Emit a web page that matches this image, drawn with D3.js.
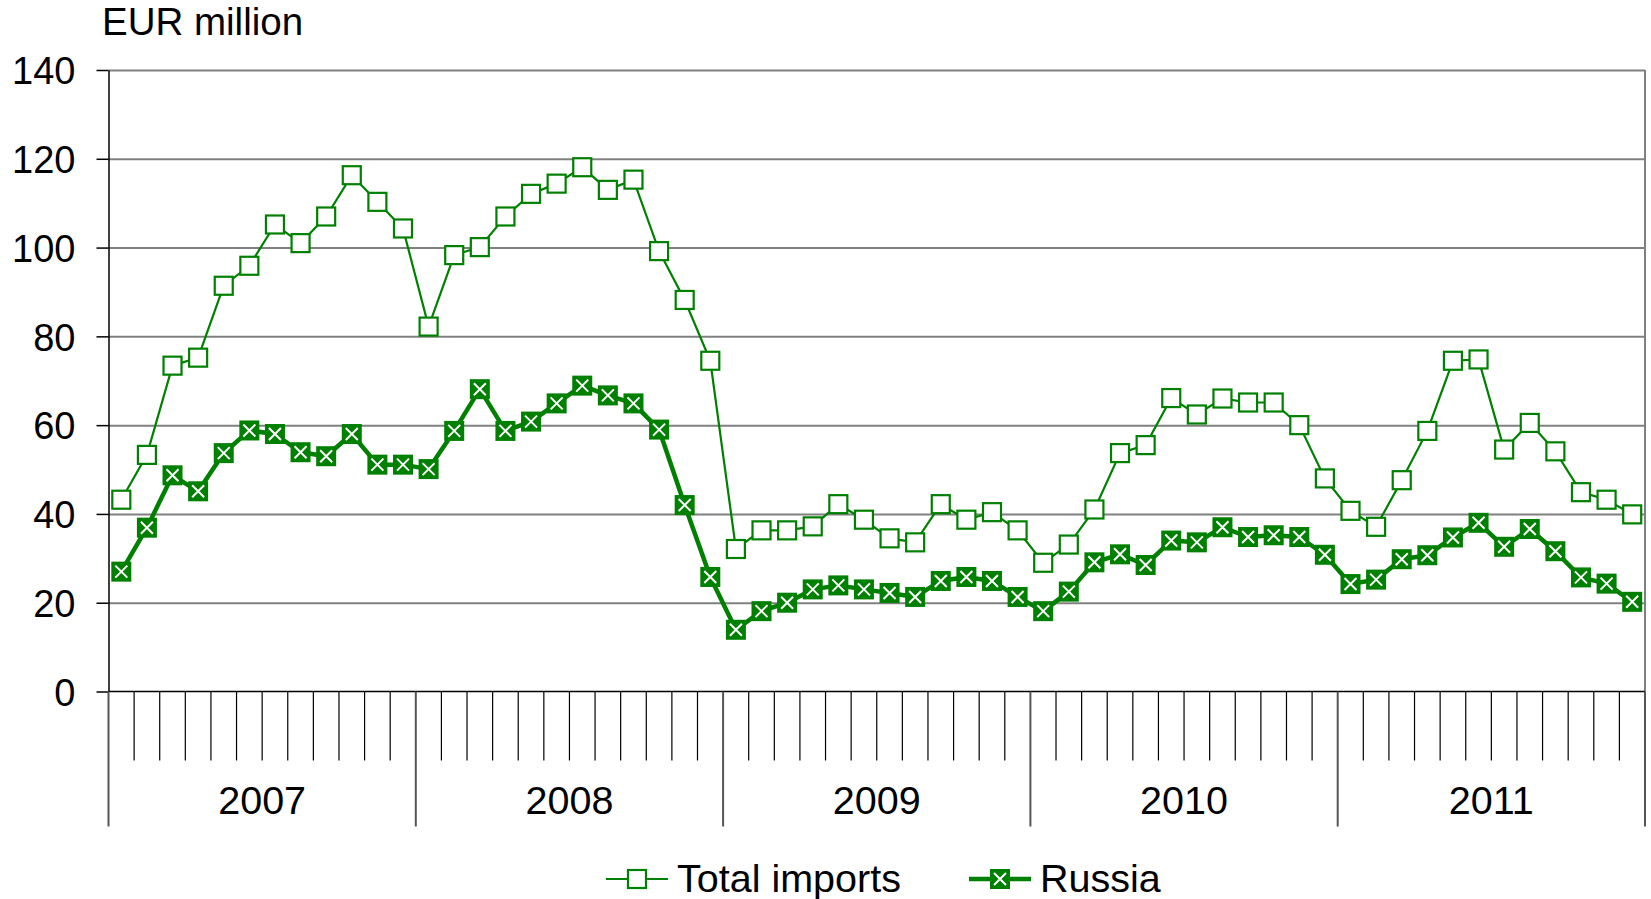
<!DOCTYPE html>
<html>
<head>
<meta charset="utf-8">
<script src="https://cdn.jsdelivr.net/npm/d3@7/dist/d3.min.js"></script>
<style>
	body { margin: 0; background: #fff; }
	svg { display: block; }
	text { font-family: 'Liberation Sans', Arial, sans-serif; fill: #000; }
</style>
</head>
<body>
<div id="chart"></div>
<script>
// data: monthly values, Jan 2007 - Dec 2011
const years = [ '2007', '2008', '2009', '2010', '2011' ];
const months = [ 'Jan', 'Feb', 'Mar', 'Apr', 'May', 'Jun', 'Jul', 'Aug', 'Sep', 'Oct', 'Nov', 'Dec' ];
const yTicks = [ 0, 20, 40, 60, 80, 100, 120, 140 ];

const totalImports = [
	43.2, 53.3, 73.4, 75.2, 91.4, 95.9, 105.2, 101.0, 107.0, 116.3, 110.3, 104.3,
	82.2, 98.3, 100.1, 107.0, 112.1, 114.4, 118.1, 113.0, 115.3, 99.2, 88.2, 74.5,
	32.1, 36.3, 36.3, 37.2, 42.2, 38.7, 34.5, 33.6, 42.2, 38.7, 40.4, 36.3,
	29.0, 33.1, 41.0, 53.7, 55.5, 66.1, 62.4, 66.0, 65.1, 65.1, 60.0, 48.0,
	40.7, 37.1, 47.6, 58.7, 74.5, 74.8, 54.5, 60.5, 54.1, 44.9, 43.2, 39.9
];

const russia = [
	27.0, 36.9, 48.7, 45.1, 53.7, 58.8, 58.0, 53.9, 53.0, 58.0, 51.1, 51.1,
	50.1, 58.7, 68.1, 58.7, 60.8, 64.9, 68.9, 66.7, 64.9, 59.0, 42.0, 25.8,
	13.9, 18.1, 20.0, 23.0, 23.9, 23.0, 22.2, 21.3, 24.9, 25.8, 24.9, 21.3,
	18.1, 22.5, 29.1, 30.9, 28.5, 34.0, 33.6, 37.0, 34.8, 35.2, 34.8, 30.8,
	24.2, 25.2, 29.8, 30.7, 34.7, 38.0, 32.6, 36.6, 31.6, 25.7, 24.3, 20.2
];

const seriesLabels = [ 'Total imports', 'Russia' ];

/**********************
***** BASIC SETUP *****
**********************/

const width = 1651;
const height = 899;
const margin = { top: 70, left: 108.5, right: 6, bottom: 207.5 };

const plotWidth = width - margin.left - margin.right;
const plotHeight = height - margin.top - margin.bottom;

const GREEN = '#008000';
const GRID = '#808080';

const svg = d3.select('#chart').append('svg').attr('width', width).attr('height', height);

const categories = years.flatMap((y) => months.map((m) => y + ' ' + m));

/***********************
***** X & Y SCALES *****
***********************/

const xScale = d3.scaleBand().domain(categories).range([ 0, plotWidth ]);
const yScale = d3.scaleLinear().domain([ 0, 140 ]).range([ plotHeight, 0 ]);

const plot = svg.append('g').attr('transform', `translate(${margin.left}, ${margin.top})`);

/*************************
***** GRIDLINES, BOX *****
*************************/

plot
	.append('g')
	.attr('class', 'grid')
	.call(d3.axisLeft(yScale).tickValues(yTicks.slice(1)).tickSize(-plotWidth).tickFormat(''))
	.call((g) => g.select('.domain').remove())
	.call((g) => g.selectAll('line').attr('stroke', GRID).attr('stroke-width', 2));

// right border of plot area
plot
	.append('line')
	.attr('x1', plotWidth)
	.attr('x2', plotWidth)
	.attr('y1', 0)
	.attr('y2', plotHeight)
	.attr('stroke', GRID)
	.attr('stroke-width', 2);

/***************************
***** Y AXIS + LABELS *****
***************************/

const yAxis = plot
	.append('g')
	.call(d3.axisLeft(yScale).tickValues(yTicks).tickSize(12).tickPadding(21).tickSizeOuter(0));

yAxis.select('.domain').attr('stroke', '#000').attr('stroke-width', 1.5);
yAxis.selectAll('.tick line').attr('stroke', '#000').attr('stroke-width', 1.5);
yAxis.selectAll('.tick text').attr('font-size', 38).attr('font-family', 'Liberation Sans, Arial, sans-serif').attr('dy', '0.36em');

svg
	.append('text')
	.attr('x', 102)
	.attr('y', 35)
	.attr('font-size', 38.5)
	.text('EUR million');

/***************************
***** X AXIS (months) *****
***************************/

const xAxis = plot.append('g').attr('transform', `translate(0, ${plotHeight})`);

xAxis
	.append('line')
	.attr('x1', 0)
	.attr('x2', plotWidth)
	.attr('y1', 0)
	.attr('y2', 0)
	.attr('stroke', '#000')
	.attr('stroke-width', 1.5);

// month ticks sit on the band edges, year edges are longer
xAxis
	.selectAll('.monthTick')
	.data(categories.concat([ 'end' ]))
	.enter()
	.append('line')
	.attr('class', 'monthTick')
	.attr('x1', (d, i) => (d === 'end' ? plotWidth : xScale(d)))
	.attr('x2', (d, i) => (d === 'end' ? plotWidth : xScale(d)))
	.attr('y1', 0)
	.attr('y2', (d, i) => (i % 12 === 0 ? 135 : 69))
	.attr('stroke', (d, i) => (i % 12 === 0 ? '#555' : '#000'))
	.attr('stroke-width', (d, i) => (i % 12 === 0 ? 2 : 1.2));

xAxis
	.selectAll('.yearLabel')
	.data(years)
	.enter()
	.append('text')
	.attr('class', 'yearLabel')
	.attr('x', (d) => (xScale(d + ' Jan') + xScale(d + ' Dec') + xScale.bandwidth()) / 2)
	.attr('y', 122)
	.attr('text-anchor', 'middle')
	.attr('font-size', 39.5)
	.text((d) => d);

/****************
***** LINES *****
****************/

const cx = (i) => xScale(categories[i]) + xScale.bandwidth() / 2;
const line = d3.line().x((d, i) => cx(i)).y((d) => yScale(d));

plot
	.append('path')
	.datum(totalImports)
	.attr('fill', 'none')
	.attr('stroke', GREEN)
	.attr('stroke-width', 2.2)
	.attr('d', line);

plot
	.append('path')
	.datum(russia)
	.attr('fill', 'none')
	.attr('stroke', GREEN)
	.attr('stroke-width', 4.5)
	.attr('stroke-linejoin', 'round')
	.attr('d', line);

const S = 18;

function openSquare(g) {
	g
		.append('rect')
		.attr('x', -S / 2)
		.attr('y', -S / 2)
		.attr('width', S)
		.attr('height', S)
		.attr('fill', '#fff')
		.attr('stroke', GREEN)
		.attr('stroke-width', 2.2);
}

function crossSquare(g) {
	g
		.append('rect')
		.attr('x', -S / 2 - 1)
		.attr('y', -S / 2 - 1)
		.attr('width', S + 2)
		.attr('height', S + 2)
		.attr('fill', GREEN);
	g
		.append('path')
		.attr('d', 'M-6,-6L6,6M-6,6L6,-6')
		.attr('stroke', '#fff')
		.attr('stroke-width', 2);
}

plot
	.selectAll('.totalPt')
	.data(totalImports)
	.enter()
	.append('g')
	.attr('class', 'totalPt')
	.attr('transform', (d, i) => `translate(${cx(i)}, ${yScale(d)})`)
	.each(function() {
		openSquare(d3.select(this));
	});

plot
	.selectAll('.russiaPt')
	.data(russia)
	.enter()
	.append('g')
	.attr('class', 'russiaPt')
	.attr('transform', (d, i) => `translate(${cx(i)}, ${yScale(d)})`)
	.each(function() {
		crossSquare(d3.select(this));
	});

/*****************
***** LEGEND *****
*****************/

const legend = svg.append('g').attr('transform', 'translate(0, 879)');

const legendItems = [
	{ label: seriesLabels[0], x: 606, w: 2.2, marker: openSquare },
	{ label: seriesLabels[1], x: 969, w: 4.5, marker: crossSquare }
];

legendItems.forEach(function(d) {
	const item = legend.append('g').attr('transform', `translate(${d.x}, 0)`);
	item
		.append('line')
		.attr('x1', 0)
		.attr('x2', 62)
		.attr('stroke', GREEN)
		.attr('stroke-width', d.w);
	d.marker(item.append('g').attr('transform', 'translate(31, 0)'));
	item
		.append('text')
		.attr('x', 71)
		.attr('y', 13)
		.attr('font-size', 39.5)
		.text(d.label);
});
</script>
</body>
</html>
